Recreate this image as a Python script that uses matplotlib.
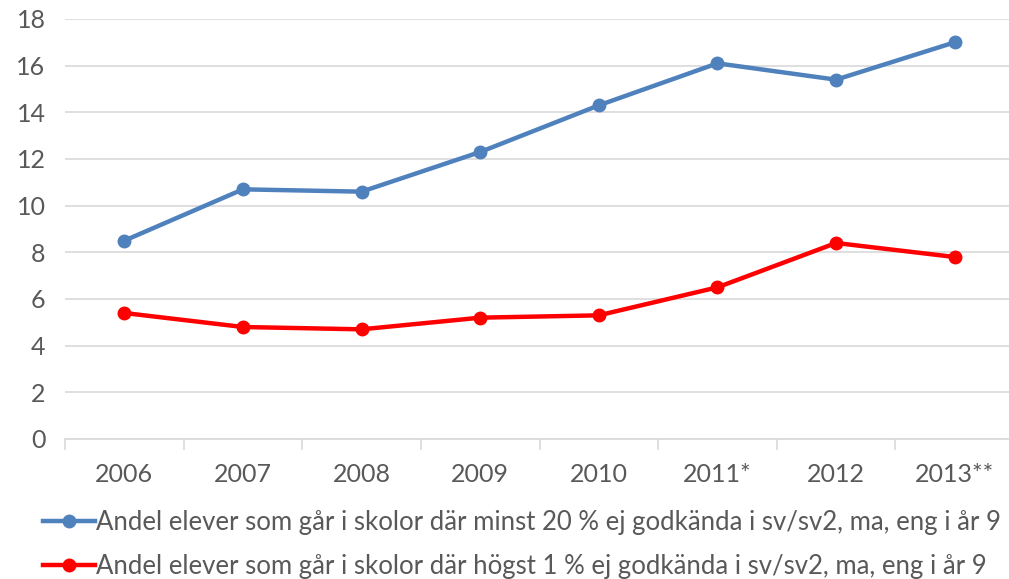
import matplotlib
matplotlib.use("Agg")
import matplotlib.pyplot as plt
from matplotlib.lines import Line2D
import numpy as np

categories = ["2006", "2007", "2008", "2009", "2010", "2011*", "2012", "2013**"]
blue_values = [8.5, 10.7, 10.6, 12.3, 14.3, 16.1, 15.4, 17.0]
red_values = [5.4, 4.8, 4.7, 5.2, 5.3, 6.5, 8.4, 7.8]
yticks = [0, 2, 4, 6, 8, 10, 12, 14, 16, 18]
blue_label = "Andel elever som går i skolor där minst 20 % ej godkända i sv/sv2, ma, eng i år 9"
red_label = "Andel elever som går i skolor där högst 1 % ej godkända i sv/sv2, ma, eng i år 9"

plt.rcParams['font.family'] = ['Lato', 'DejaVu Sans']
TXT = "#595959"
BLUE = "#4f81bd"
RED = "#ff0000"

W, H = 1009, 579
fig = plt.figure(figsize=(W/100, H/100), dpi=100)
x0, x1 = 65, 1014
ytop, ybot = 19, 439
ax = fig.add_axes([x0/W, 1 - ybot/H, (x1 - x0)/W, (ybot - ytop)/H])

x = np.arange(len(categories))
ax.plot(x, blue_values, color=BLUE, lw=3.2, marker='o', ms=9, solid_joinstyle='round')
ax.plot(x, red_values, color=RED, lw=3.2, marker='o', ms=9, solid_joinstyle='round')

ax.set_xlim(-0.5, len(categories) - 0.5)
ax.set_ylim(0, 18)
ax.set_yticks(yticks)
ax.set_yticklabels([str(v) for v in yticks])
ax.yaxis.grid(True, color="#d9d9d9", lw=1.2)
ax.set_axisbelow(True)
for s in ["top", "right", "left"]:
    ax.spines[s].set_visible(False)
ax.spines["bottom"].set_color("#d9d9d9")
ax.spines["bottom"].set_linewidth(1.2)
ax.tick_params(axis='y', length=0, labelsize=18, labelcolor=TXT, pad=14)
ax.set_xticks(np.arange(-0.5, len(categories), 1.0))
ax.set_xticklabels([])
ax.tick_params(axis='x', which='major', length=8, color="#d9d9d9", width=1.2)
ax.set_xticks(x, minor=True)
ax.set_xticklabels(categories, minor=True)
ax.tick_params(axis='x', which='minor', length=0, labelsize=18, labelcolor=TXT, pad=17)

handles = [Line2D([], [], color=BLUE, lw=3.2, marker='o', ms=9),
           Line2D([], [], color=RED, lw=3.2, marker='o', ms=9)]
leg = fig.legend(handles, [blue_label, red_label], loc='upper left',
                 bbox_to_anchor=(20/W, 1 - 487/H), frameon=False, fontsize=18.5,
                 handlelength=2.0, handletextpad=0.05, labelspacing=0.75,
                 labelcolor=TXT)

fig.savefig("out.png", dpi=100)
